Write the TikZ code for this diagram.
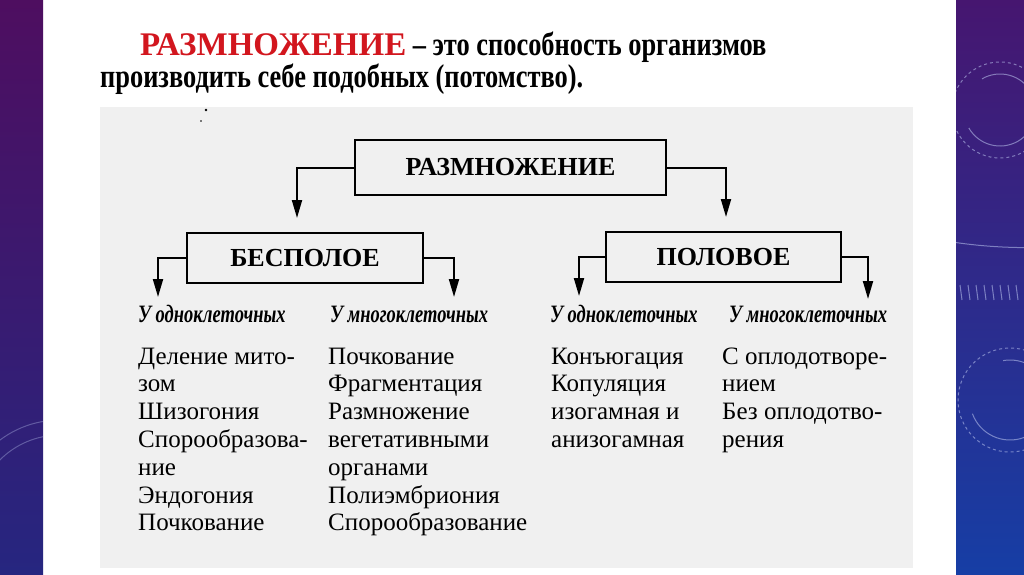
\documentclass[tikz,border=0pt]{standalone}
\usepackage{fontspec}
\setmainfont{Liberation Serif}
\newfontfamily\condfont[FakeStretch=0.74]{Liberation Serif}
\newfontfamily\titlecond[FakeStretch=0.8]{Liberation Serif}
\usetikzlibrary{arrows.meta}
\definecolor{titlered}{RGB}{210,22,30}
\definecolor{scan}{RGB}{240,240,240}
\definecolor{ltop}{RGB}{78,14,96}
\definecolor{lbot}{RGB}{38,38,128}
\definecolor{rtop}{RGB}{70,22,112}
\definecolor{rbot}{RGB}{22,62,165}
\definecolor{deco}{RGB}{190,200,240}
\tikzset{
  titletext/.style={inner sep=0pt, anchor=base west, font=\fontsize{33}{36}\selectfont\bfseries},
  boxnode/.style={draw, line width=2.6pt, inner sep=0pt, font=\fontsize{26}{28}\selectfont\bfseries},
  conn/.style={line width=2pt, -{Triangle[width=10pt,length=18pt]}},
  sublabel/.style={inner sep=0pt, anchor=base west, font=\fontsize{25}{27}\selectfont\condfont\bfseries\itshape},
  body/.style={inner sep=0pt, anchor=base west, font=\fontsize{25}{27}\selectfont},
  decoline/.style={draw=deco, opacity=0.55, line width=1pt}
}
\begin{document}
\begin{tikzpicture}[x=1pt,y=-1pt]
\useasboundingbox (0,0) rectangle (1024,574);
% slide background
\fill[white] (0,0) rectangle (1024,574);
\shade[top color=ltop, bottom color=lbot] (0,0) rectangle (43,574);
\shade[top color=rtop, bottom color=rbot] (956,0) rectangle (1024,574);
% decorations on the side bands
\begin{scope}
\clip (956,0) rectangle (1024,574);
\draw[decoline] (1000,110) ++(150:36) arc (150:-120:36);
\draw[decoline, dashed] (1000,110) circle (48);
\draw[decoline] (1010,400) ++(160:40) arc (160:-100:40);
\draw[decoline, dashed] (1010,400) circle (52);
\draw[decoline] (940,240) arc (100:80:500);
\foreach \k in {0,...,7} \draw[decoline] ({960+8*\k},285) -- ({962+8*\k},300);
\end{scope}
\begin{scope}
\clip (0,0) rectangle (43,574);
\draw[decoline, opacity=0.35] (60,520) circle (85);
\draw[decoline, opacity=0.35] (60,520) circle (100);
\end{scope}
% title
\node[titletext] (title1) at (140,55) {{\color{titlered}РАЗМНОЖЕНИЕ}{\titlecond\ – это способность организмов}};
\node[titletext] (title2) at (100,87) {\titlecond производить себе подобных (потомство).};
% scanned panel
\fill[scan] (100,107) rectangle (913,568);
\fill[black] (206,110) circle (1.4);
\fill[black] (201,121) circle (0.9);
% boxes
\node[boxnode, minimum width=311pt, minimum height=55pt] (main) at (510.5,167.5) {РАЗМНОЖЕНИЕ};
\node[boxnode, minimum width=236pt, minimum height=50pt] (bes) at (305,258) {БЕСПОЛОЕ};
\node[boxnode, minimum width=235pt, minimum height=50pt] (pol) at (723.5,257) {ПОЛОВОЕ};
% arrow tips
\coordinate (tbes) at (297,218);
\coordinate (tpol) at (726,217);
\coordinate (tb1) at (158,297);
\coordinate (tb2) at (454,297);
\coordinate (tp1) at (579,296);
\coordinate (tp2) at (868,299);
\draw[conn] (main.west) -| (tbes);
\draw[conn] (main.east) -| (tpol);
\draw[conn] (bes.west) -| (tb1);
\draw[conn] (bes.east) -| (tb2);
\draw[conn] (pol.west) -| (tp1);
\draw[conn] (pol.east) -| (tp2);
% sub labels
\node[sublabel] (l1) at (138,322) {У одноклеточных};
\node[sublabel] (l2) at (330,322) {У многоклеточных};
\node[sublabel] (l3) at (550,322) {У одноклеточных};
\node[sublabel] (l4) at (729,322) {У многоклеточных};
% lists
\foreach \t [count=\i] in {Деление мито-, зом, Шизогония, Спорообразова-, ние, Эндогония, Почкование}
  \node[body] (a\i) at (138,{364+27.8*(\i-1)}) {\t};
\foreach \t [count=\i] in {Почкование, Фрагментация, Размножение, вегетативными, органами, Полиэмбриония, Спорообразование}
  \node[body] (b\i) at (328,{364+27.8*(\i-1)}) {\t};
\foreach \t [count=\i] in {Конъюгация, Копуляция, изогамная и, анизогамная}
  \node[body] (c\i) at (551,{364+27.8*(\i-1)}) {\t};
\foreach \t [count=\i] in {С оплодотворе-, нием, Без оплодотво-, рения}
  \node[body] (d\i) at (722,{364+27.8*(\i-1)}) {\t};
\end{tikzpicture}
\end{document}
